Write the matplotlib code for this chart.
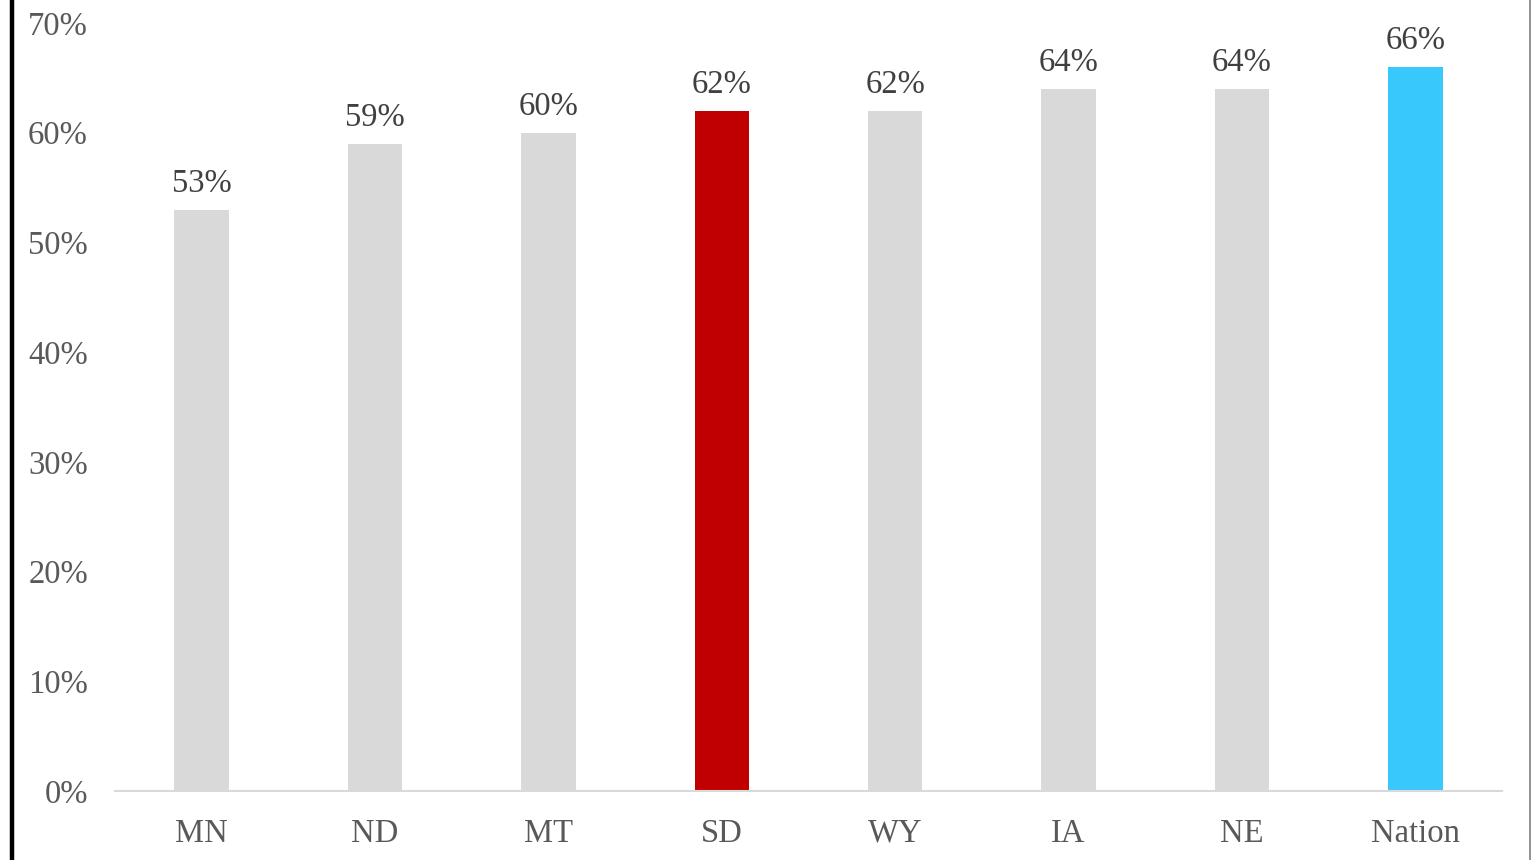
import matplotlib.pyplot as plt
from matplotlib.lines import Line2D

states = ["MN", "ND", "MT", "SD", "WY", "IA", "NE", "Nation"]
values = [53, 59, 60, 62, 62, 64, 64, 66]
colors = ["#d9d9d9", "#d9d9d9", "#d9d9d9", "#c00000", "#d9d9d9", "#d9d9d9", "#d9d9d9", "#38c8fc"]
yticks = [0, 10, 20, 30, 40, 50, 60, 70]

plt.rcParams["font.family"] = ["Liberation Serif", "DejaVu Serif"]

fig = plt.figure(figsize=(15.32, 8.6), dpi=100)
ax = fig.add_axes([115 / 1532, 1 - 791 / 860, 1387 / 1532, 768 / 860])

x = list(range(len(states)))
ax.bar(x, values, width=0.315, color=colors, zorder=2)
for xi, v in zip(x, values):
    ax.text(xi, v + 1.0, f"{v}%", ha="center", va="bottom", fontsize=23.5, color="#404040")

ax.set_xlim(-0.5, len(states) - 0.5)
ax.set_ylim(0, 70)
ax.set_yticks(yticks)
ax.set_yticklabels([f"{t}%" for t in yticks])
ax.set_xticks(x)
ax.set_xticklabels(states)
ax.tick_params(axis="both", length=0, labelsize=23.5, labelcolor="#595959")
ax.tick_params(axis="x", pad=19.5)
ax.tick_params(axis="y", pad=19.5)

for s in ["top", "right", "left"]:
    ax.spines[s].set_visible(False)
ax.spines["bottom"].set_color("#d9d9d9")
ax.spines["bottom"].set_linewidth(1.5)

# frame edges seen in the source image
fig.add_artist(Line2D([12 / 1532, 12 / 1532], [0, 1], color="black", linewidth=3.2))
fig.add_artist(Line2D([1529.5 / 1532, 1529.5 / 1532], [0, 1], color="#808080", linewidth=1.2))

fig.savefig("out.png", dpi=100)
